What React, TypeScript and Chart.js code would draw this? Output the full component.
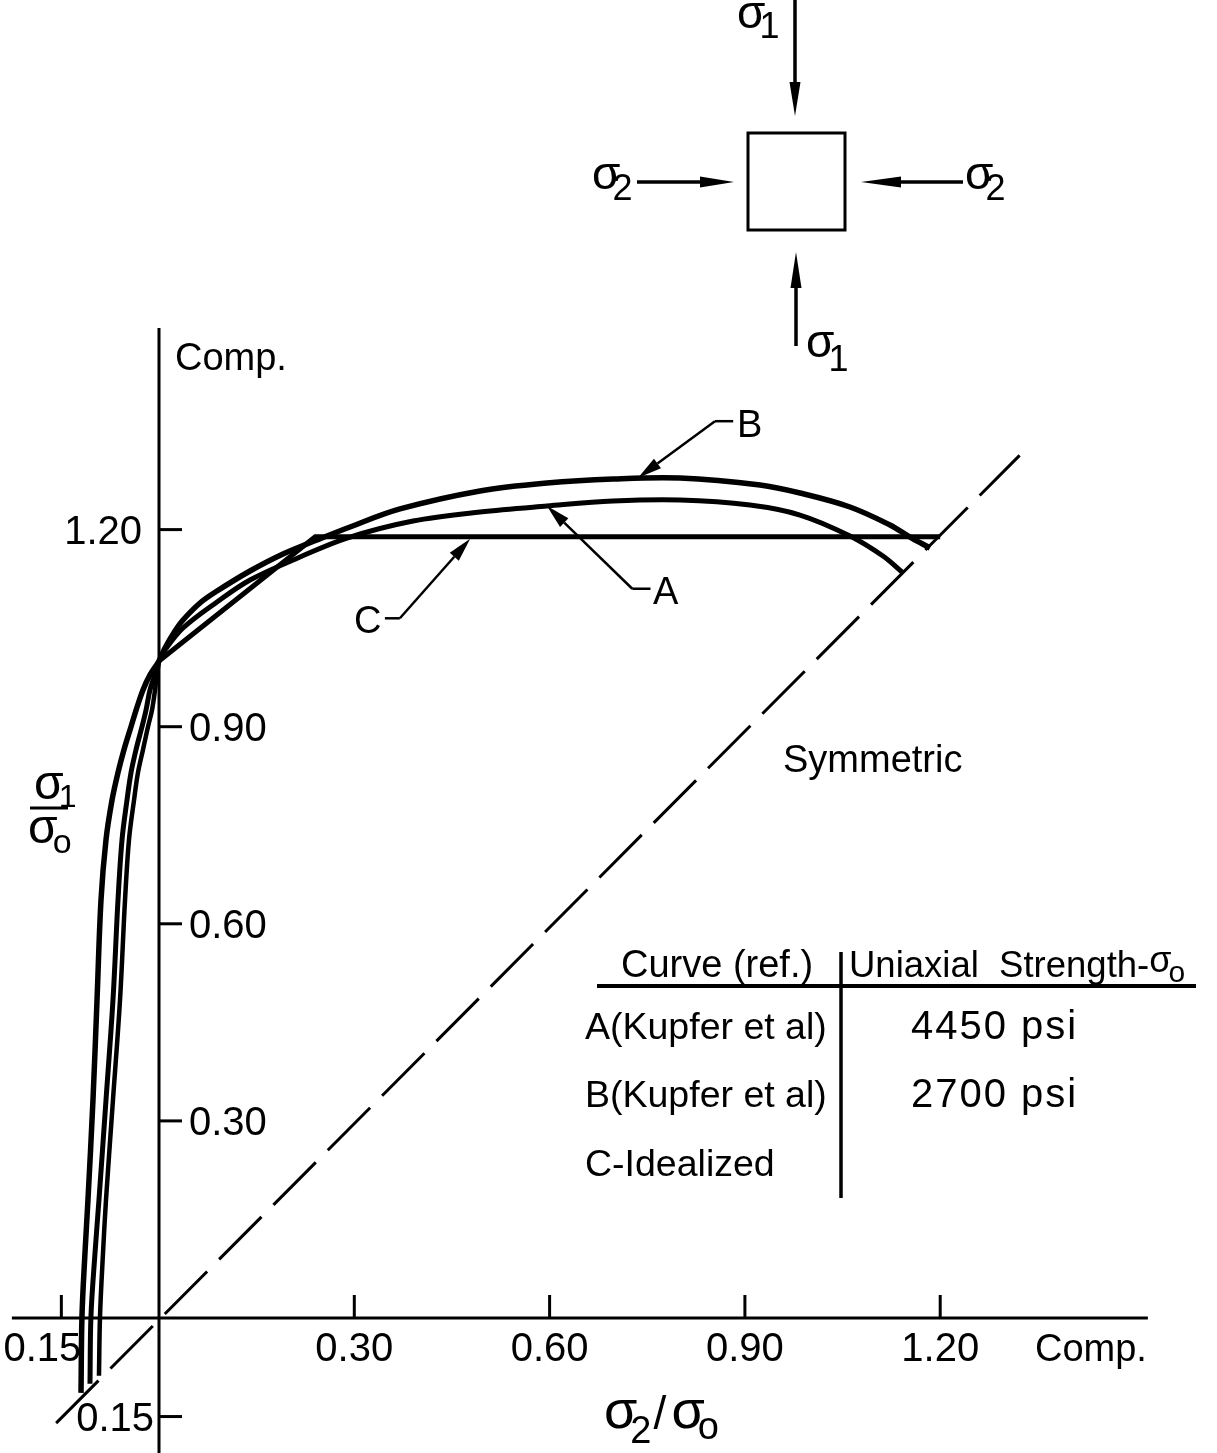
import React, { useEffect, useRef } from "react";
import { Chart, registerables } from "chart.js";

Chart.register(...registerables);

const W = 1217;
const H = 1453;
const FONT = '"Liberation Sans", Arial, sans-serif';

// ---- data (sigma2/sigma0 , sigma1/sigma0) ----
// Curve A (Kupfer et al, 4450 psi)
const curveA_s2 = [-0.106, -0.1045, -0.0983, -0.0922, -0.0814, -0.0707, -0.063, -0.0568, -0.0492, -0.043, -0.0353, -0.0261, -0.02, -0.0138, -0.0061, 0, 0.0092, 0.0369, 0.0891, 0.1398, 0.2166, 0.2888, 0.3902, 0.4931, 0.596, 0.6974, 0.8003, 0.9078, 0.9846, 1.0614, 1.1121, 1.1413];
const curveA_s1 = [-0.1, 0.003, 0.099, 0.18, 0.332, 0.484, 0.636, 0.728, 0.788, 0.83, 0.865, 0.9, 0.925, 0.956, 0.979, 1.0, 1.0167, 1.0502, 1.0898, 1.1233, 1.1583, 1.1872, 1.2131, 1.2268, 1.2359, 1.2435, 1.2451, 1.2374, 1.2222, 1.1903, 1.1598, 1.1355];
// Curve B (Kupfer et al, 2700 psi)
const curveB_s2 = [-0.1198, -0.1183, -0.1137, -0.1091, -0.1014, -0.0952, -0.0891, -0.0814, -0.0722, -0.063, -0.0538, -0.043, -0.0353, -0.0246, -0.0138, 0, 0.0092, 0.0246, 0.0369, 0.063, 0.0891, 0.1398, 0.1905, 0.2427, 0.2934, 0.3702, 0.4931, 0.596, 0.6974, 0.8003, 0.9232, 0.9846, 1.0614, 1.1229, 1.1536, 1.1843];
const curveB_s1 = [-0.114, 0.003, 0.099, 0.18, 0.332, 0.484, 0.636, 0.728, 0.788, 0.83, 0.865, 0.9, 0.925, 0.956, 0.979, 1.0, 1.0198, 1.0457, 1.0624, 1.0883, 1.1065, 1.137, 1.1629, 1.1842, 1.204, 1.2314, 1.2588, 1.2709, 1.277, 1.2785, 1.2679, 1.2557, 1.2344, 1.207, 1.1887, 1.172];
// Curve C (idealized): tension branch and compression branch
const curveCt_s2 = [-0.0922, -0.0906, -0.086, -0.0814, -0.0707, -0.0599, -0.0522, -0.0461, -0.0384, -0.0323, -0.0246, -0.0169, -0.0108, -0.0061, -0.0031, 0];
const curveCt_s1 = [-0.088, 0.003, 0.099, 0.18, 0.332, 0.484, 0.636, 0.728, 0.788, 0.83, 0.865, 0.9, 0.925, 0.956, 0.979, 1.0];
const curveCc_s2 = [0, 0.24, 1.2];
const curveCc_s1 = [1.0, 1.189, 1.189];
// symmetry line sigma1 = sigma2
const symLine_s2 = [-0.158, 1.322];
const symLine_s1 = [-0.16, 1.313];
// axes extents
const xAxisLine = [-0.226, 1.519];
const yAxisLine = [-0.21, 1.507];

// ticks
const yTickValues = [1.2, 0.9, 0.6, 0.3, -0.15];
const yTickLabels = ["1.20", "0.90", "0.60", "0.30", "0.15"];
const xTickValues = [0.3, 0.6, 0.9, 1.2, -0.15];
const xTickLabels = ["0.30", "0.60", "0.90", "1.20", "0.15"];

// table
const tableCurves = ["A(Kupfer et al)", "B(Kupfer et al)", "C-Idealized"];
const tableStrengths = ["4450 psi", "2700 psi", ""];

// scale ranges (full canvas)
const X_MIN = -159 / 651;
const X_MAX = (W - 159) / 651;
const Y_MAX = 1318 / 657;
const Y_MIN = (1318 - H) / 657;

const pts = (xs: number[], ys: number[]) => xs.map((x, i) => ({ x, y: ys[i] }));

function line(ctx: CanvasRenderingContext2D, x1: number, y1: number, x2: number, y2: number, lw = 3) {
  ctx.lineWidth = lw;
  ctx.beginPath();
  ctx.moveTo(x1, y1);
  ctx.lineTo(x2, y2);
  ctx.stroke();
}

function arrow(ctx: CanvasRenderingContext2D, x1: number, y1: number, x2: number, y2: number, len: number, half: number, lw = 3) {
  const a = Math.atan2(y2 - y1, x2 - x1);
  const bx = x2 - len * Math.cos(a);
  const by = y2 - len * Math.sin(a);
  line(ctx, x1, y1, bx, by, lw);
  ctx.beginPath();
  ctx.moveTo(x2, y2);
  ctx.lineTo(bx + half * Math.sin(a), by - half * Math.cos(a));
  ctx.lineTo(bx - half * Math.sin(a), by + half * Math.cos(a));
  ctx.closePath();
  ctx.fill();
}

function text(ctx: CanvasRenderingContext2D, s: string, x: number, y: number, size: number, align: CanvasTextAlign = "left", spacing = 0) {
  ctx.font = `${size}px ${FONT}`;
  (ctx as any).letterSpacing = `${spacing}px`;
  ctx.textAlign = align;
  ctx.textBaseline = "alphabetic";
  ctx.fillText(s, x, y);
  (ctx as any).letterSpacing = "0px";
}

function subText(ctx: CanvasRenderingContext2D, base: string, sub: string, x: number, y: number, size: number, subSize: number, dy: number, kern = -2) {
  ctx.textAlign = "left";
  ctx.textBaseline = "alphabetic";
  ctx.font = `${size}px ${FONT}`;
  const w = ctx.measureText(base).width;
  ctx.fillText(base, x, y);
  ctx.font = `${subSize}px ${FONT}`;
  ctx.fillText(sub, x + w + kern, y + dy);
  return x + w + kern + ctx.measureText(sub).width;
}

const decor = {
  id: "decor",
  afterDatasetsDraw(chart: any) {
    const ctx: CanvasRenderingContext2D = chart.ctx;
    const xs = chart.scales.x;
    const ys = chart.scales.y;
    const X = (v: number) => xs.getPixelForValue(v);
    const Y = (v: number) => ys.getPixelForValue(v);
    ctx.save();
    ctx.strokeStyle = "#000";
    ctx.fillStyle = "#000";
    ctx.lineCap = "butt";

    const x0 = X(0);
    const y0 = Y(0);
    const TS = 40;
    // y ticks
    yTickValues.forEach((v, i) => {
      const py = Y(v);
      line(ctx, x0, py, x0 + 23, py, 3);
      const lab = yTickLabels[i];
      if (v === 1.2) text(ctx, lab, x0 - 17, py + 14, TS, "right");
      else if (v < 0) text(ctx, lab, x0 - 5, py + 14, TS, "right");
      else text(ctx, lab, x0 + 30, py + 14, TS, "left");
    });
    // x ticks
    xTickValues.forEach((v, i) => {
      const px = X(v);
      line(ctx, px, y0, px, y0 - 23, 3);
      const lab = xTickLabels[i];
      if (v < 0) text(ctx, lab, px - 19, y0 + 43, TS, "center");
      else text(ctx, lab, px, y0 + 43, TS, "center");
    });

    // axis end labels
    text(ctx, "Comp.", x0 + 16, 370, 38, "left");
    text(ctx, "Comp.", 1035, y0 + 43, 38, "left");
    text(ctx, "Symmetric", 783, 772, 38, "left");

    // x-axis title  sigma2 / sigma0
    const nx = subText(ctx, "σ", "2", 604, 1428, 54, 38, 15, -7);
    text(ctx, "/", nx + 2, 1429, 46, "left");
    subText(ctx, "σ", "o", nx + 20, 1428, 54, 38, 11, -7);

    // y-axis title (fraction) sigma1 / sigma0
    subText(ctx, "σ", "1", 34, 799, 48, 32, 8, -5);
    line(ctx, 30, 808, 68, 808, 3);
    subText(ctx, "σ", "o", 28, 843, 48, 34, 10, -5);

    // curve labels with leaders
    const leader = (tip: [number, number], elbow: [number, number], end: [number, number]) => {
      arrow(ctx, X(elbow[0]), Y(elbow[1]), X(tip[0]), Y(tip[1]), 24, 6, 2.5);
      line(ctx, X(elbow[0]), Y(elbow[1]), X(end[0]), Y(end[1]), 2.5);
    };
    leader([0.736, 1.279], [0.854, 1.365], [0.882, 1.365]);
    text(ctx, "B", 737, 437, 38, "left");
    leader([0.596, 1.236], [0.727, 1.11], [0.755, 1.11]);
    text(ctx, "A", 653, 604, 38, "left");
    leader([0.478, 1.186], [0.37, 1.065], [0.347, 1.065]);
    text(ctx, "C", 354, 633, 38, "left");

    // table
    line(ctx, 597, 986, 1196, 986, 4);
    line(ctx, 841, 952, 841, 1198, 3.5);
    text(ctx, "Curve (ref.)", 621, 977, 38, "left");
    const ux = 849;
    text(ctx, "Uniaxial  Strength-", ux, 977, 36.5, "left");
    ctx.font = `36.5px ${FONT}`;
    const uw = ctx.measureText("Uniaxial  Strength-").width;
    subText(ctx, "σ", "o", ux + uw, 972, 36, 30, 10, -3);
    const rowY = [1039, 1107, 1176];
    tableCurves.forEach((c, i) => {
      text(ctx, c, 585, rowY[i], 37.5, "left");
      if (tableStrengths[i]) text(ctx, tableStrengths[i], 911, rowY[i], 40, "left", 2);
    });

    // stress element diagram
    ctx.lineWidth = 3;
    ctx.strokeRect(748, 133, 97, 97);
    arrow(ctx, 795, 0, 795, 116, 34, 5.5, 3.5);
    arrow(ctx, 796, 346, 796, 252, 36, 5.5, 3.5);
    arrow(ctx, 637, 182, 734, 182, 34, 5.5, 3.5);
    arrow(ctx, 963, 182, 861, 182, 40, 5.5, 3.5);
    subText(ctx, "σ", "1", 737, 28, 46, 36, 10, -6);
    subText(ctx, "σ", "1", 806, 357, 46, 36, 14, -6);
    subText(ctx, "σ", "2", 592, 189, 46, 36, 11, -8);
    subText(ctx, "σ", "2", 965, 189, 46, 36, 11, -8);
    ctx.restore();
  },
};

export default function App() {
  const ref = useRef<HTMLCanvasElement>(null);
  useEffect(() => {
    document.body.style.margin = "0";
    const canvas = ref.current!;
    const black = "#000";
    const ds = (data: { x: number; y: number }[], width: number, tension: number, dash: number[] = []) => ({
      data,
      showLine: true,
      borderColor: black,
      backgroundColor: black,
      borderWidth: width,
      borderDash: dash,
      pointRadius: 0,
      tension,
      fill: false,
      clip: false as any,
    });
    const chart = new Chart(canvas, {
      type: "scatter",
      data: {
        datasets: [
          ds(pts(xAxisLine, [0, 0]), 3, 0),
          ds(pts([0, 0], yAxisLine), 3, 0),
          ds(pts(symLine_s2, symLine_s1), 3, 0, [60, 17]),
          ds(pts(curveCc_s2, curveCc_s1), 5, 0),
          ds(pts(curveCt_s2, curveCt_s1), 4.5, 0.35),
          ds(pts(curveA_s2, curveA_s1), 5, 0.35),
          ds(pts(curveB_s2, curveB_s1), 5.5, 0.35),
        ] as any,
      },
      options: {
        responsive: false,
        animation: false,
        devicePixelRatio: 1,
        events: [],
        layout: { padding: 0 },
        plugins: { legend: { display: false }, tooltip: { enabled: false } },
        scales: {
          x: { type: "linear", min: X_MIN, max: X_MAX, display: false },
          y: { type: "linear", min: Y_MIN, max: Y_MAX, display: false },
        },
      },
      plugins: [decor as any],
    });
    return () => chart.destroy();
  }, []);
  return (
    <div style={{ width: W, height: H, background: "#fff" }}>
      <canvas ref={ref} width={W} height={H} style={{ display: "block", width: W, height: H }} />
    </div>
  );
}
